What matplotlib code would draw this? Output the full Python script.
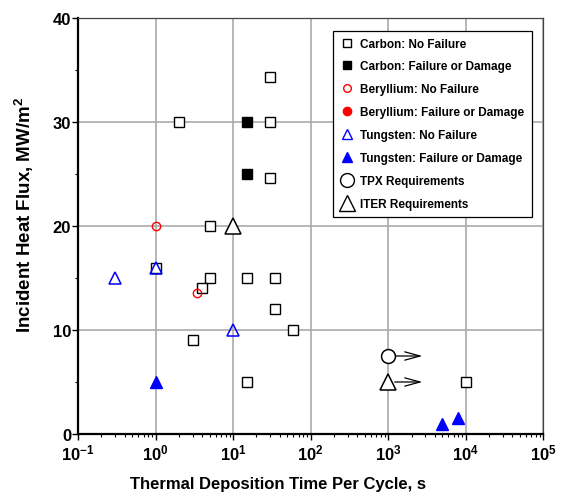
import matplotlib
matplotlib.use("Agg")
import matplotlib.pyplot as plt
import matplotlib.font_manager as fm
from matplotlib.lines import Line2D
from matplotlib.ticker import LogLocator, MultipleLocator, FixedLocator

names = {f.name for f in fm.fontManager.ttflist}
fam = "Liberation Sans Narrow" if "Liberation Sans Narrow" in names else "Liberation Sans"
plt.rcParams['font.family'] = [fam, 'DejaVu Sans']
plt.rcParams['font.weight'] = 'bold'
plt.rcParams['mathtext.fontset'] = 'custom'
plt.rcParams['mathtext.rm'] = fam + ':bold'
plt.rcParams['mathtext.bf'] = fam + ':bold'
plt.rcParams['mathtext.default'] = 'bf'

# data
carbon_ok_t = [2, 30, 30, 30, 5, 5, 4, 15, 35, 35, 60, 3, 1, 15, 10000]
carbon_ok_q = [30, 30, 34.3, 24.6, 20, 15, 14, 15, 15, 12, 10, 9, 16, 5, 5]
carbon_fail_t = [15, 15]
carbon_fail_q = [30, 25]
be_ok_t = [1, 3.4]
be_ok_q = [20, 13.6]
w_ok_t = [0.3, 1, 10]
w_ok_q = [15, 16, 10]
w_fail_t = [1, 5000, 8000]
w_fail_q = [5, 1, 1.5]
tpx_t, tpx_q = [1000], [7.5]
iter_t, iter_q = [10, 1000], [20, 5]
arrow_end = 3000
decades = [-1, 0, 1, 2, 3, 4, 5]

fig = plt.figure(figsize=(5.7, 5.02), dpi=100)
ax = fig.add_axes([0.137, 0.1335, 0.816, 0.8285])

ax.plot(carbon_ok_t, carbon_ok_q, 's', ms=6.5, mfc='white', mec='black', mew=1.0, ls='none', zorder=3)
ax.plot(carbon_fail_t, carbon_fail_q, 's', ms=6.5, mfc='black', mec='black', ls='none', zorder=3)
ax.plot(be_ok_t, be_ok_q, 'o', ms=6, mfc='none', mec='red', mew=1.0, ls='none', zorder=4)
ax.plot(w_ok_t, w_ok_q, '^', ms=8, mfc='none', mec='blue', mew=1.1, ls='none', zorder=4)
ax.plot(w_fail_t, w_fail_q, '^', ms=8, mfc='blue', mec='blue', ls='none', zorder=4)
ax.plot(tpx_t, tpx_q, 'o', ms=10, mfc='white', mec='black', mew=1.1, ls='none', zorder=4)
ax.plot(iter_t, iter_q, '^', ms=12, mfc='white', mec='black', mew=1.1, ls='none', zorder=4)

# requirement arrows
for t, q in [(tpx_t[0], tpx_q[0]), (iter_t[1], iter_q[1])]:
    ax.annotate('', xy=(arrow_end, q), xytext=(t * 1.12, q),
                arrowprops=dict(arrowstyle='->,head_length=1.1,head_width=0.3', color='black', lw=0.9))

ax.set_xscale('log')
ax.set_xlim(0.1, 1e5)
ax.set_ylim(0, 40)
ax.xaxis.set_major_locator(FixedLocator([10.0 ** e for e in decades]))
ax.xaxis.set_minor_locator(LogLocator(base=10, subs=range(2, 10), numticks=20))
ax.set_xticklabels(['$10^{%d}$' % e for e in decades])
ax.yaxis.set_major_locator(MultipleLocator(10))
ax.yaxis.set_minor_locator(MultipleLocator(5))
ax.grid(True, which='major', color='#aaaaaa', lw=1.2, zorder=0)
ax.set_axisbelow(True)

for s in ['top', 'right']:
    ax.spines[s].set_color('#444444')
    ax.spines[s].set_linewidth(0.9)
for s in ['left', 'bottom']:
    ax.spines[s].set_color('black')
    ax.spines[s].set_linewidth(1.6)

ax.tick_params(which='major', direction='out', length=4, width=1, labelsize=12, pad=1)
ax.tick_params(which='minor', direction='out', length=2.5, width=0.8)
ax.tick_params(axis='x', pad=2)
for lab in ax.get_yticklabels():
    lab.set_fontweight('bold')

ax.set_xlabel('Thermal Deposition Time Per Cycle, s', fontsize=12, fontweight='bold')
ax.set_ylabel('Incident Heat Flux, MW/m$^2$', fontsize=13.5, fontweight='bold')
ax.xaxis.set_label_coords(0.43, -0.1)
ax.yaxis.set_label_coords(-0.09, 0.53)

handles = [
    Line2D([], [], marker='s', ls='none', ms=6, mfc='white', mec='black'),
    Line2D([], [], marker='s', ls='none', ms=6, mfc='black', mec='black'),
    Line2D([], [], marker='o', ls='none', ms=5.5, mfc='none', mec='red'),
    Line2D([], [], marker='o', ls='none', ms=6, mfc='red', mec='red'),
    Line2D([], [], marker='^', ls='none', ms=7.5, mfc='none', mec='blue'),
    Line2D([], [], marker='^', ls='none', ms=7.5, mfc='blue', mec='blue'),
    Line2D([], [], marker='o', ls='none', ms=10, mfc='white', mec='black'),
    Line2D([], [], marker='^', ls='none', ms=11, mfc='white', mec='black'),
]
labels = ['Carbon: No Failure', 'Carbon: Failure or Damage', 'Beryllium: No Failure',
          'Beryllium: Failure or Damage', 'Tungsten: No Failure', 'Tungsten: Failure or Damage',
          'TPX Requirements', 'ITER Requirements']
leg = ax.legend(handles, labels, loc='upper right', bbox_to_anchor=(0.975, 0.97),
                prop={'size': 8.5, 'weight': 'bold'}, fancybox=False, framealpha=1,
                edgecolor='black', labelspacing=0.92, handletextpad=0.5,
                handlelength=1.2, borderpad=0.6, borderaxespad=0)
leg.get_frame().set_linewidth(0.9)

fig.savefig('out.png', dpi=100)
